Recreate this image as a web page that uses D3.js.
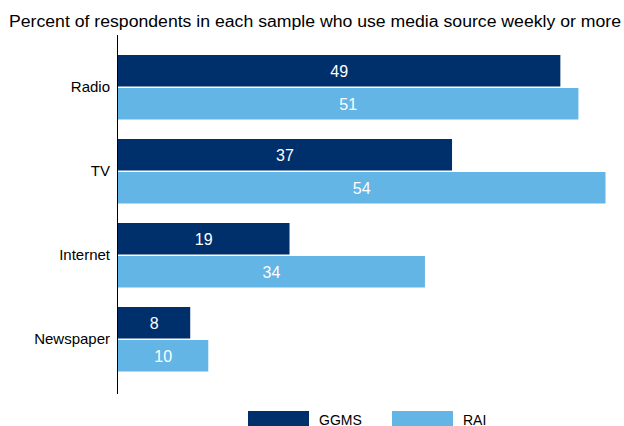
<!DOCTYPE html>
<html>
<head>
<meta charset="utf-8">
<script src="https://cdn.jsdelivr.net/npm/d3@7"></script>
<style>
  body { margin: 0; background: #fff; }
  text { font-family: Arial, "Liberation Sans", sans-serif; }
</style>
</head>
<body>
<svg width="624" height="426"></svg>
<script>
// chart values
var categories = ["Radio", "TV", "Internet", "Newspaper"];
var seriesNames = ["GGMS", "RAI"];
var ggms = [49, 37, 19, 8];
var rai = [51, 54, 34, 10];
var colors = ["#00306b", "#63b5e5"];

var svg = d3.select("svg"),
    width = +svg.attr("width"),
    height = +svg.attr("height");

var left = 118;

var x = d3.scaleLinear()
    .domain([0, 54])
    .range([left, 605.5]);

// one band per category, two bars inside each band
var y = d3.scaleBand()
    .domain(categories)
    .range([55, 55 + 4 * 84]);

var barH = 31.5, gap = 1.5;

var rows = categories.map(function (c, i) {
    return {cat: c, values: [ggms[i], rai[i]]};
});

svg.append("text")
    .attr("x", 9)
    .attr("y", 27)
    .attr("textLength", 612)
    .attr("lengthAdjust", "spacingAndGlyphs")
    .style("font-size", "16px")
    .attr("fill", "#000")
    .text("Percent of respondents in each sample who use media source weekly or more");

var group = svg.selectAll(".row")
    .data(rows)
    .enter().append("g")
    .attr("class", "row")
    .attr("transform", function (d) {
        return "translate(0," + y(d.cat) + ")";
    });

group.selectAll("rect")
    .data(function (d) { return d.values; })
    .enter().append("rect")
    .attr("x", x(0))
    .attr("y", function (d, j) { return j * (barH + gap); })
    .attr("width", function (d) { return x(d) - x(0); })
    .attr("height", barH)
    .attr("fill", function (d, j) { return colors[j]; });

group.selectAll(".val")
    .data(function (d) { return d.values; })
    .enter().append("text")
    .attr("class", "val")
    .attr("x", function (d) { return (x(0) + x(d)) / 2; })
    .attr("y", function (d, j) { return j * (barH + gap) + barH / 2 + 6; })
    .attr("text-anchor", "middle")
    .attr("fill", "#fff")
    .style("font-size", "16px")
    .text(function (d) { return d; });

group.append("text")
    .attr("x", 110)
    .attr("y", barH + gap / 2 + 5)
    .attr("text-anchor", "end")
    .style("font-size", "15px")
    .attr("fill", "#000")
    .text(function (d) { return d.cat; });

// vertical axis line
svg.append("line")
    .attr("x1", left - 0.5)
    .attr("x2", left - 0.5)
    .attr("y1", 35)
    .attr("y2", 394)
    .attr("stroke", "#000")
    .attr("stroke-width", 1);

// legend
var legend = svg.selectAll(".legend")
    .data(seriesNames)
    .enter().append("g")
    .attr("class", "legend")
    .attr("transform", function (d, i) {
        return "translate(" + (248 + i * 144) + ",411)";
    });

legend.append("rect")
    .attr("width", 61)
    .attr("height", 20)
    .attr("fill", function (d, i) { return colors[i]; });

legend.append("text")
    .attr("x", 71)
    .attr("y", 13.5)
    .style("font-size", "14px")
    .attr("fill", "#000")
    .text(function (d) { return d; });
</script>
</body>
</html>
